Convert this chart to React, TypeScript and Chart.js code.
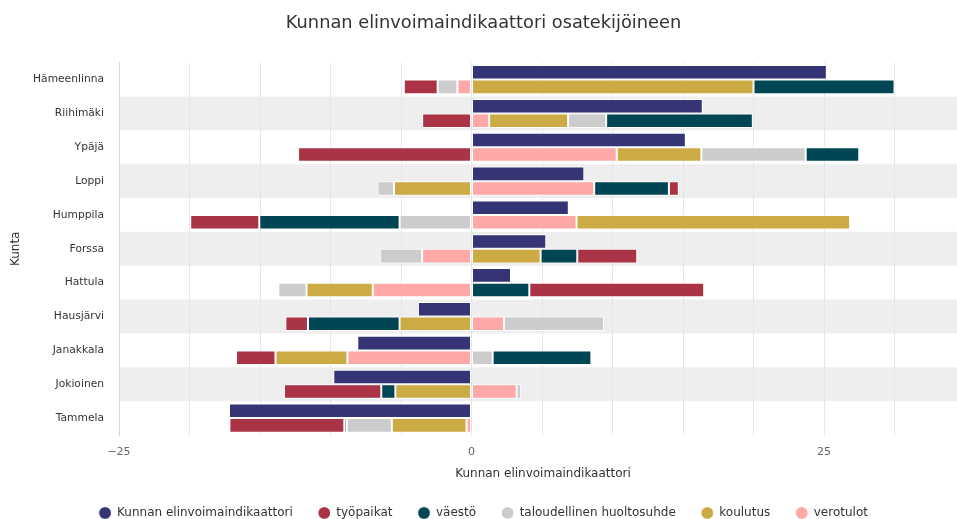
import React, { useEffect, useRef } from 'react';
import { Chart, registerables } from 'chart.js';

Chart.register(...registerables);

const categories = ['Hämeenlinna', 'Riihimäki', 'Ypäjä', 'Loppi', 'Humppila', 'Forssa', 'Hattula', 'Hausjärvi', 'Janakkala', 'Jokioinen', 'Tammela'];

const kokonais = [25.2, 16.4, 15.2, 8.0, 6.9, 5.3, 2.8, -3.8, -8.1, -9.8, -17.2];
const tyopaikat = [-2.4, -3.5, -12.3, 0.7, -4.9, 4.25, 12.4, -1.6, -2.8, -6.9, -8.15];
const vaesto = [10.0, 10.4, 3.8, 5.3, -9.95, 2.6, 4.1, -6.5, 7.0, -1.0, -0.17];
const huoltosuhde = [-1.4, 2.7, 7.4, -1.16, -5.1, -3.0, -2.0, 7.1, 1.5, 0.32, -3.2];
const koulutus = [20.0, 5.6, 6.0, -5.5, 19.4, 4.9, -4.7, -5.1, -5.1, -5.4, -5.3];
const verotulot = [-1.0, 1.25, 10.3, 8.7, 7.45, -3.5, -7.0, 2.3, -8.8, 3.2, -0.35];

const xMin = -25;
const xMax = 35.14;
const xStep = 5;
const labelStep = 25;

const FONT = '"DejaVu Sans", Verdana, sans-serif';

const bandsPlugin = {
  id: 'bands',
  beforeDraw(chart: any) {
    const { ctx, chartArea, scales } = chart;
    const y = scales.y;
    const n = categories.length;
    const h = (chartArea.bottom - chartArea.top) / n;
    ctx.save();
    ctx.fillStyle = '#eeeeee';
    for (let i = 1; i < n; i += 2) {
      const c = y.getPixelForValue(i);
      ctx.fillRect(chartArea.left, c - h / 2, chartArea.right - chartArea.left, h);
    }
    ctx.restore();
  },
};

export default function App() {
  const ref = useRef<HTMLCanvasElement | null>(null);
  useEffect(() => {
    document.body.style.overflow = 'hidden';
    const canvas = ref.current!;
    const common = { stack: 'osat', borderColor: '#ffffff', borderWidth: 1, borderSkipped: false as any };
    const chart = new Chart(canvas, {
      type: 'bar',
      data: {
        labels: categories,
        datasets: [
          { label: 'Kunnan elinvoimaindikaattori', data: kokonais, backgroundColor: '#353575', borderColor: '#ffffff', borderWidth: 1, borderSkipped: false as any, stack: 'kokonais', order: 0 },
          { label: 'työpaikat', data: tyopaikat, backgroundColor: '#aa3345', ...common, order: 5 },
          { label: 'väestö', data: vaesto, backgroundColor: '#004655', ...common, order: 4 },
          { label: 'taloudellinen huoltosuhde', data: huoltosuhde, backgroundColor: '#cccccc', ...common, order: 3 },
          { label: 'koulutus', data: koulutus, backgroundColor: '#ccaa44', ...common, order: 2 },
          { label: 'verotulot', data: verotulot, backgroundColor: '#ffa8a8', ...common, order: 1 },
        ],
      },
      options: {
        indexAxis: 'y',
        responsive: false,
        animation: false,
        devicePixelRatio: 1,
        layout: { padding: 0 },
        datasets: { bar: { categoryPercentage: 0.86, barPercentage: 1.0 } },
        scales: {
          x: {
            stacked: true,
            min: xMin,
            max: xMax,
            grid: { color: '#e6e6e6', lineWidth: 1, drawTicks: false },
            border: { display: false },
            ticks: {
              stepSize: xStep,
              includeBounds: false,
              autoSkip: false,
              maxRotation: 0,
              padding: 11,
              color: '#666666',
              font: { family: FONT, size: 11 },
              callback: (v: any) => {
                const n = Number(v);
                if (Math.abs(n % labelStep) > 1e-9) return '';
                return n < 0 ? '\u2212' + Math.abs(n) : String(n);
              },
            },
            title: {
              display: true,
              text: 'Kunnan elinvoimaindikaattori',
              color: '#333333',
              font: { family: FONT, size: 12 },
              padding: { top: 0, bottom: 0.8 },
            },
            afterFit: (s: any) => { s.height = 46.5; s.paddingRight = 0; s.paddingLeft = 0; },
          },
          y: {
            grid: { display: false, drawTicks: false },
            border: { display: true, color: '#ccd6eb', width: 1 },
            ticks: { padding: 15, color: '#333333', font: { family: FONT, size: 10.7 } },
            title: {
              display: true,
              text: 'Kunta',
              color: '#333333',
              font: { family: FONT, size: 12 },
              padding: { top: 8.5, bottom: 0 },
            },
            afterFit: (s: any) => { s.width = 119; },
          },
        },
        plugins: {
          title: {
            display: true,
            text: 'Kunnan elinvoimaindikaattori osatekijöineen',
            color: '#333333',
            font: { family: FONT, size: 17.8, weight: 'normal' },
            padding: { top: 12.5, bottom: 28.8 },
          },
          legend: {
            position: 'bottom',
            labels: {
              usePointStyle: true,
              pointStyle: 'circle',
              boxWidth: 15,
              boxHeight: 9,
              padding: 25.5,
              color: '#333333',
              font: { family: FONT, size: 12 },
              sort: (a: any, b: any) => a.datasetIndex - b.datasetIndex,
            },
          },
          tooltip: { enabled: false },
        },
      },
      plugins: [bandsPlugin],
    } as any);
    return () => chart.destroy();
  }, []);
  return (
    <div style={{ position: 'absolute', left: 0, top: 0, width: 967, height: 519, overflow: 'hidden', background: '#ffffff' }}>
      <canvas ref={ref} width={967} height={529} style={{ display: 'block' }} />
    </div>
  );
}
